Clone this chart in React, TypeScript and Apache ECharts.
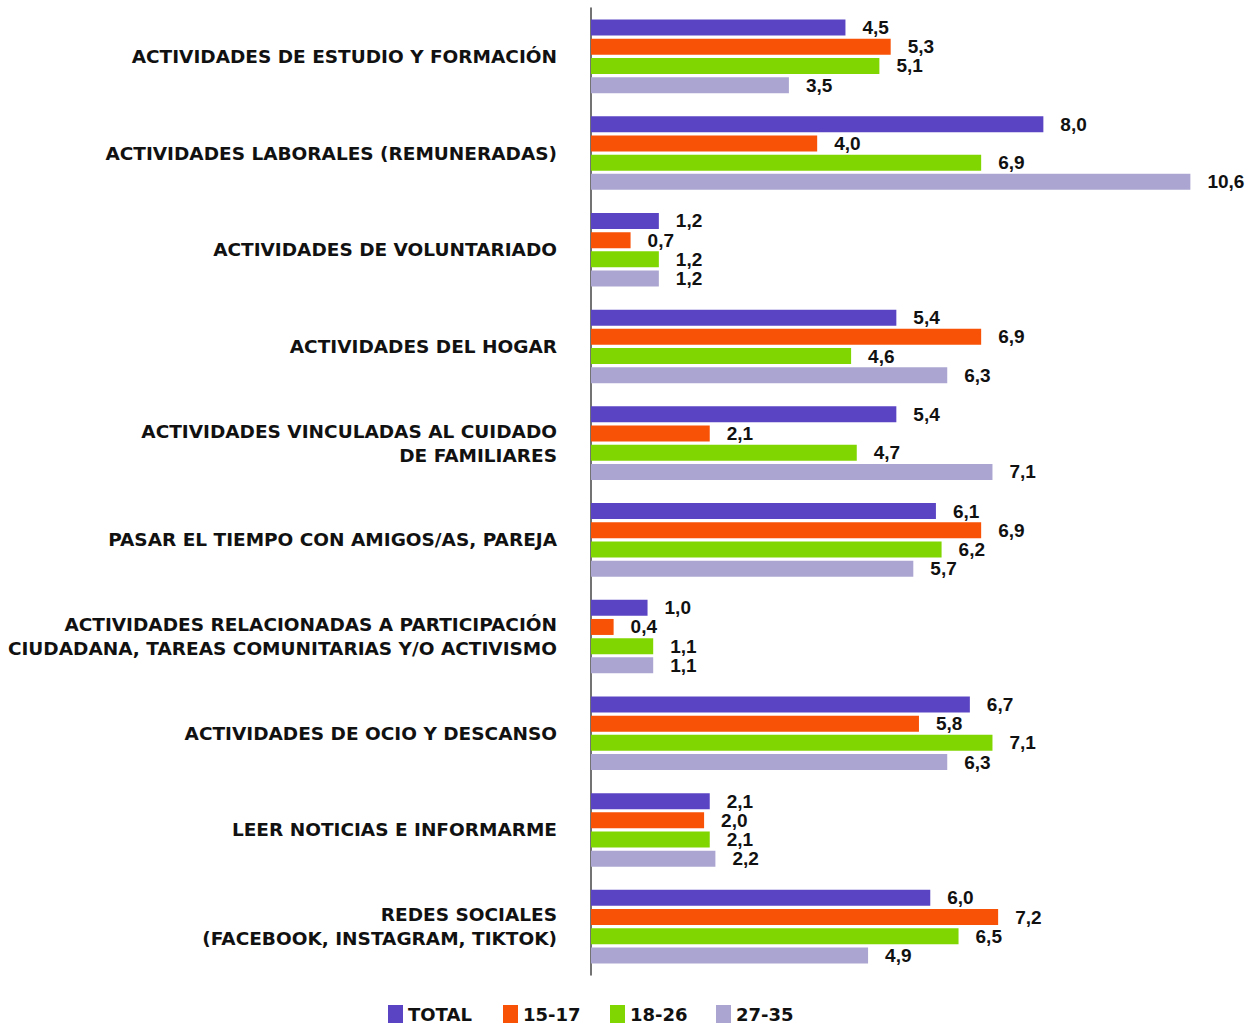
import React, { useEffect, useRef } from "react";
import * as echarts from "echarts";

const categories = [
  "ACTIVIDADES DE ESTUDIO Y FORMACIÓN",
  "ACTIVIDADES LABORALES (REMUNERADAS)",
  "ACTIVIDADES DE VOLUNTARIADO",
  "ACTIVIDADES DEL HOGAR",
  "ACTIVIDADES VINCULADAS AL CUIDADO\nDE FAMILIARES",
  "PASAR EL TIEMPO CON AMIGOS/AS, PAREJA",
  "ACTIVIDADES RELACIONADAS A PARTICIPACIÓN\nCIUDADANA, TAREAS COMUNITARIAS Y/O ACTIVISMO",
  "ACTIVIDADES DE OCIO Y DESCANSO",
  "LEER NOTICIAS E INFORMARME",
  "REDES SOCIALES\n(FACEBOOK, INSTAGRAM, TIKTOK)",
];

const seriesNames = ["TOTAL", "15-17", "18-26", "27-35"];
const total = [4.5, 8.0, 1.2, 5.4, 5.4, 6.1, 1.0, 6.7, 2.1, 6.0];
const age15to17 = [5.3, 4.0, 0.7, 6.9, 2.1, 6.9, 0.4, 5.8, 2.0, 7.2];
const age18to26 = [5.1, 6.9, 1.2, 4.6, 4.7, 6.2, 1.1, 7.1, 2.1, 6.5];
const age27to35 = [3.5, 10.6, 1.2, 6.3, 7.1, 5.7, 1.1, 6.3, 2.2, 4.9];
const colors = ["#5B44C4", "#F85206", "#80D600", "#ABA6D1"];
const legendLefts = [388, 503, 610, 716];

export default function App() {
  const ref = useRef<HTMLDivElement>(null);
  useEffect(() => {
    if (!ref.current) return;
    const chart = echarts.init(ref.current, undefined, { renderer: "svg" });
    const data = [total, age15to17, age18to26, age27to35];
    chart.setOption({
      animation: false,
      color: colors,
      grid: { left: 591, top: 8, width: 622, height: 967, containLabel: false },
      xAxis: {
        type: "value",
        min: 0,
        max: 11,
        show: false,
      },
      yAxis: {
        type: "category",
        data: categories,
        inverse: true,
        axisLine: { show: true, lineStyle: { color: "#444", width: 1.5 } },
        axisTick: { show: false },
        splitLine: { show: false },
        axisLabel: {
          margin: 34,
          align: "right",
          fontFamily: "DejaVu Sans",
          fontWeight: "bold",
          fontSize: 18.5,
          color: "#111",
          lineHeight: 24,
          padding: [17, 0, 0, 0],
        },
      },
      legend: seriesNames.map((name, i) => ({
        top: 1005,
        left: legendLefts[i],
        padding: 0,
        itemWidth: 15,
        itemHeight: 18,
        icon: "rect",
        selectedMode: false,
        textStyle: { fontFamily: "DejaVu Sans", fontWeight: "bold", fontSize: 18, color: "#111" },
        data: [name],
      })),
      series: seriesNames.map((name, i) => ({
        name,
        type: "bar",
        data: data[i],
        barWidth: 16,
        barGap: "20%",
        itemStyle: { color: colors[i] },
        label: {
          show: true,
          position: "right",
          distance: 17,
          fontFamily: "Liberation Sans, Arial",
          fontWeight: "bold",
          fontSize: 19,
          color: "#111",
          formatter: (p: any) => Number(p.value).toFixed(1).replace(".", ","),
        },
      })),
    });
    return () => chart.dispose();
  }, []);
  return (
    <div
      ref={ref}
      style={{ position: "absolute", left: 0, top: 0, width: 1250, height: 1023 }}
    />
  );
}
